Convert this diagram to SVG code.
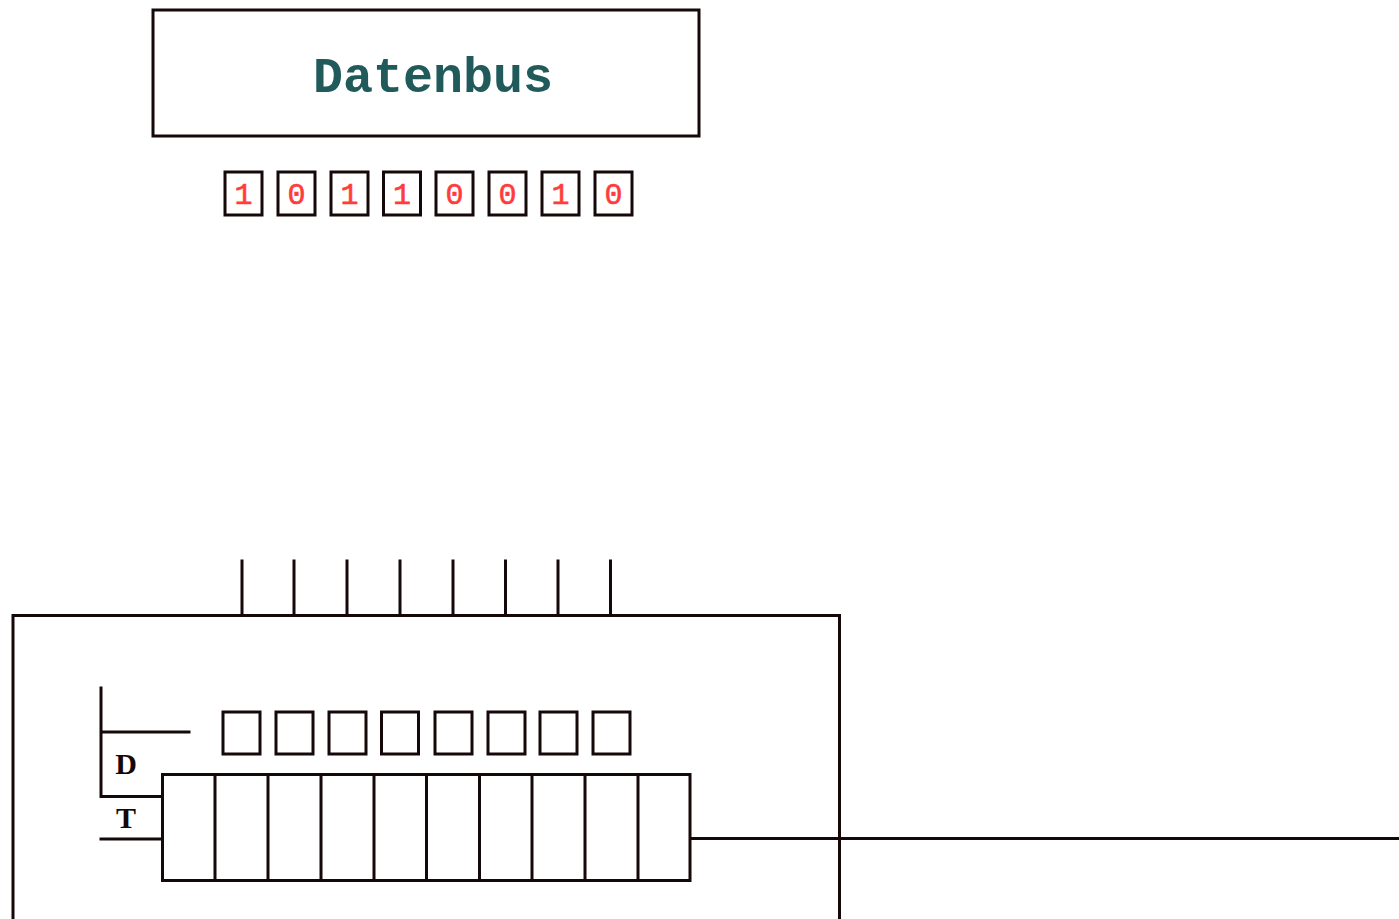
<svg xmlns="http://www.w3.org/2000/svg" width="1399" height="919" viewBox="0 0 1399 919">
<style>
.ln{stroke:#140808;stroke-width:3;fill:none;stroke-linecap:square}
.bx{stroke:#140808;stroke-width:3;fill:#fff}
.bit{font-family:"Liberation Mono",monospace;font-size:30px;fill:#ff3b3b;text-anchor:middle;stroke:#ff3b3b;stroke-width:0.6}
.lbl{font-family:"Liberation Serif",serif;font-size:30px;font-weight:bold;fill:#140808;text-anchor:middle}
</style>
<rect width="1399" height="919" fill="#fff"/>
<g id="datenbus">
<rect class="bx" x="153" y="10" width="546" height="126"/>
<text x="433" y="92" font-family="Liberation Mono, monospace" font-size="50" font-weight="bold" fill="#215a5a" text-anchor="middle">Datenbus</text>
</g>
<g id="bits">
<g id="bit1"><rect class="bx" x="225" y="172" width="37" height="43"/><text class="bit" x="243.5" y="204">1</text></g>
<g id="bit2"><rect class="bx" x="278" y="172" width="37" height="43"/><text class="bit" x="296.5" y="204">0</text></g>
<g id="bit3"><rect class="bx" x="331" y="172" width="37" height="43"/><text class="bit" x="349.5" y="204">1</text></g>
<g id="bit4"><rect class="bx" x="383.5" y="172" width="37" height="43"/><text class="bit" x="402" y="204">1</text></g>
<g id="bit5"><rect class="bx" x="436" y="172" width="37" height="43"/><text class="bit" x="454.5" y="204">0</text></g>
<g id="bit6"><rect class="bx" x="489" y="172" width="37" height="43"/><text class="bit" x="507.5" y="204">0</text></g>
<g id="bit7"><rect class="bx" x="542" y="172" width="37" height="43"/><text class="bit" x="560.5" y="204">1</text></g>
<g id="bit8"><rect class="bx" x="595" y="172" width="37" height="43"/><text class="bit" x="613.5" y="204">0</text></g>
</g>
<g id="device">
<path class="ln" d="M13 919V615.5H839.5V919"/>
</g>
<g id="connectors">
<path class="ln" d="M242 561V615M294 561V615M347 561V615M400 561V615M453 561V615M505.5 561V615M558 561V615M610.5 561V615"/>
<path class="ln" d="M101 688V796.5H162M101 732H189M101 839H162"/>
<path class="ln" d="M690 838.5H1399"/>
</g>
<g id="latch">
<rect class="bx" x="223" y="712" width="37" height="42"/>
<rect class="bx" x="276" y="712" width="37" height="42"/>
<rect class="bx" x="329" y="712" width="37" height="42"/>
<rect class="bx" x="381.5" y="712" width="37" height="42"/>
<rect class="bx" x="435" y="712" width="37" height="42"/>
<rect class="bx" x="488" y="712" width="37" height="42"/>
<rect class="bx" x="540" y="712" width="37" height="42"/>
<rect class="bx" x="593" y="712" width="37" height="42"/>
</g>
<g id="register">
<rect class="bx" x="162.5" y="774.5" width="527.5" height="106"/>
<path class="ln" d="M215 774.5V880.5M268 774.5V880.5M321 774.5V880.5M374 774.5V880.5M426.5 774.5V880.5M479.5 774.5V880.5M532 774.5V880.5M585 774.5V880.5M638 774.5V880.5"/>
<text class="lbl" x="126" y="774">D</text>
<text class="lbl" x="126" y="828">T</text>
</g>
</svg>
